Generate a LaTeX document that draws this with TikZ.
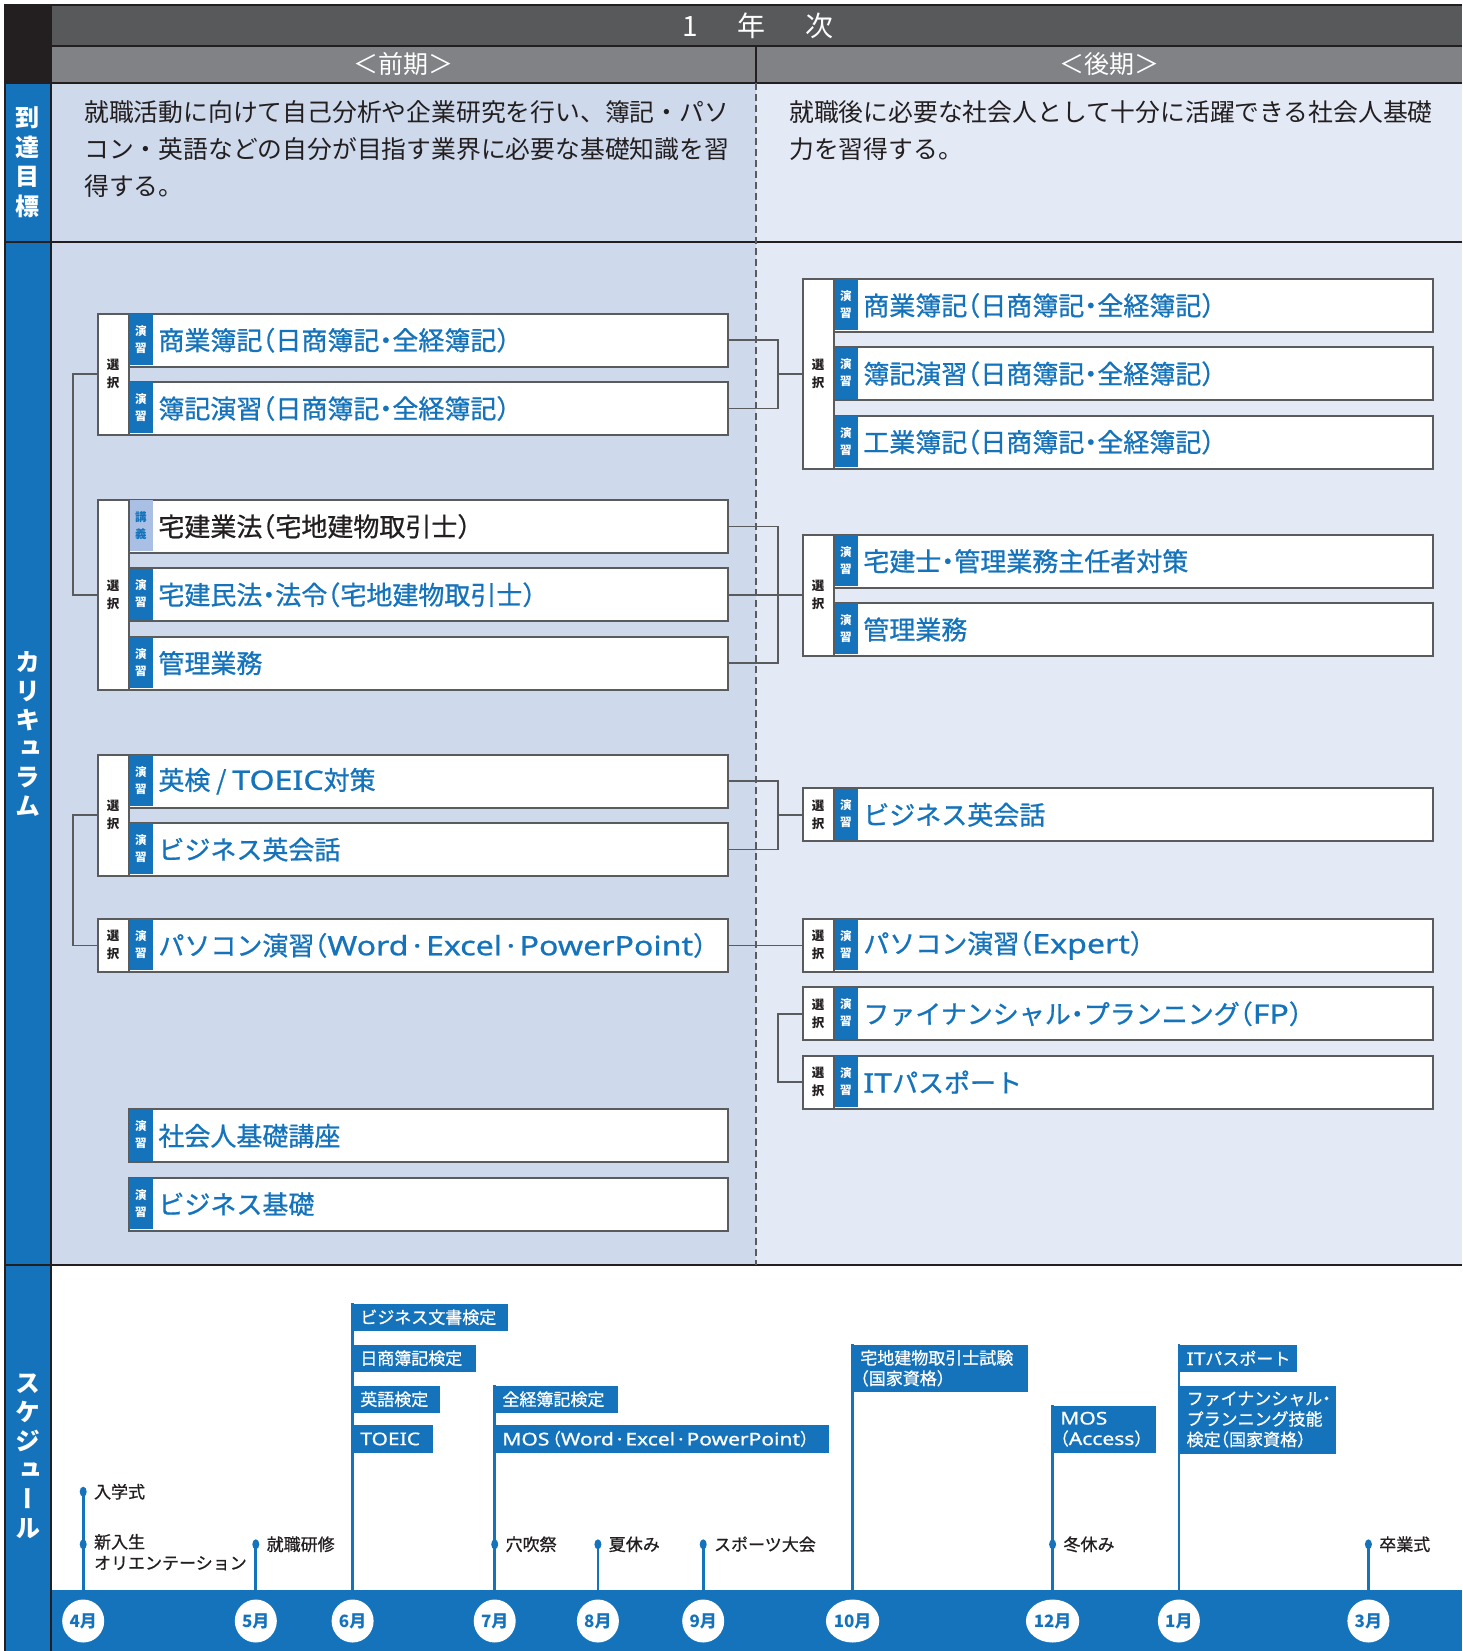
\documentclass[tikz,border=0pt]{standalone}
\usepackage{fontspec}
\setmainfont{Noto Sans CJK JP}
\newfontfamily\pjp{Noto Sans CJK JP}[RawFeature=+halt, FakeBold=0.8]
\newfontfamily\vjp{Noto Sans CJK JP}[RawFeature=+vert]
\newfontfamily\latin{Noto Sans}[FakeStretch=1.2, Scale=1.03, FakeBold=0.8]
\newcommand\lat[1]{{\latin #1}}
\usetikzlibrary{positioning,shapes.geometric}

\definecolor{kblue}{HTML}{1473BB}
\definecolor{ktag}{HTML}{A9BFE3}
\definecolor{khead}{HTML}{58595B}
\definecolor{ksub}{HTML}{808285}
\definecolor{kink}{HTML}{231F20}
\definecolor{kfront}{HTML}{CED9EC}
\definecolor{kback}{HTML}{E3E9F5}
\definecolor{kline}{HTML}{5A5B5D}

\tikzset{
  course/.style={draw=kline, line width=2pt, fill=white, anchor=north west,
    minimum width=599pt, minimum height=53pt, inner sep=0pt},
  coursetext/.style={anchor=west, inner sep=0pt, text=kblue,
    font=\pjp\fontsize{26}{30}\selectfont},
  tagbox/.style={anchor=north west, fill=kblue, text=white, minimum width=24pt,
    minimum height=51pt, inner sep=0pt, align=center,
    font=\bfseries\fontsize{11.5}{17}\selectfont},
  selbox/.style={draw=kline, line width=2pt, fill=white, anchor=north west,
    minimum width=31pt, inner sep=0pt, align=center, text=kink,
    font=\bfseries\fontsize{12.5}{18}\selectfont},
  conn/.style={draw=kline, line width=1.8pt},
  monthmark/.style={ellipse, fill=white, minimum width=42pt, minimum height=43pt,
    inner sep=0pt, text=kblue, font=\bfseries\fontsize{17}{17}\selectfont},
  tline/.style={draw=kblue, line width=2.8pt},
  evdot/.style={ellipse, fill=kblue, minimum width=7pt, minimum height=10pt, inner sep=0pt},
  evtext/.style={anchor=west, inner sep=0pt, text=kink, align=left,
    font=\pjp\fontsize{17}{21}\selectfont},
  exam/.style={anchor=north west, fill=kblue, text=white, inner xsep=9pt,
    inner ysep=0pt, minimum height=27.4pt, align=left,
    font=\pjp\fontsize{17}{20.5}\selectfont},
  sidelabel/.style={text=white, align=center, inner sep=0pt},
  frameline/.style={draw=kink, line width=1.5pt},
  aim/.style={anchor=north west, inner sep=0pt, align=left, text=kink,
    font=\fontsize{24.8}{37.4}\selectfont},
}

\begin{document}
\begin{tikzpicture}[x=1pt,y=-1pt]
\useasboundingbox (0,0) rectangle (1462,1651);

% backgrounds and frame
\fill[kfront] (51,83) rectangle (756,1265);
\fill[kback] (756,83) rectangle (1462,1265);
\fill[khead] (51,5) rectangle (1462,46);
\fill[ksub] (51,46) rectangle (1462,83);
\fill[kink] (5,5) rectangle (51,83);
\fill[kblue] (5,83) rectangle (51,1651);
\fill[kblue] (51,1590) rectangle (1462,1651);
\draw[frameline] (5,1651) -- (5,5) -- (1462,5);
\draw[frameline] (51,5) -- (51,1651);
\foreach \y in {46,83,242,1265}
  \draw[frameline] (5,\y) -- (1462,\y);
\draw[frameline] (756,46) -- (756,83);
\draw[kline, line width=1.3pt, dash pattern=on 7pt off 4pt] (756,83) -- (756,1265);

% headings
\node[text=white, font=\fontsize{28}{28}\selectfont] (year) at (758,26) {1\hspace{40pt}年\hspace{40pt}次};
\node[text=white, font=\fontsize{25}{25}\selectfont] (zenki) at (403.5,64) {＜前期＞};
\node[text=white, font=\fontsize{25}{25}\selectfont] (kouki) at (1109,64) {＜後期＞};
\node[sidelabel, font=\vjp\bfseries\fontsize{24}{29.5}\selectfont] (goal) at (28,162) {到\\達\\目\\標};
\node[sidelabel, font=\vjp\bfseries\fontsize{25}{28.8}\selectfont] (curr) at (28,734) {カ\\リ\\キ\\ュ\\ラ\\ム};
\node[sidelabel, font=\vjp\bfseries\fontsize{25}{29}\selectfont] (sched) at (28,1456) {ス\\ケ\\ジ\\ュ\\ー\\ル};

\node[aim] (aim1) at (84,100)
  {就職活動に向けて自己分析や企業研究を行い、簿記・パソ\\コン・英語などの自分が目指す業界に必要な基礎知識を習\\得する。};
\node[aim] (aim2) at (789,100)
  {就職後に必要な社会人として十分に活躍できる社会人基礎\\力を習得する。};

% first half
\foreach \n/\y/\txt in {z1/312.7/{商業簿記（日商簿記・全経簿記）},
    z2/381/{簿記演習（日商簿記・全経簿記）},
    z4/567.3/{宅建民法・法令（宅地建物取引士）},
    z5/635.6/{管理業務},
    z6/753.7/{英検 / \lat{TOEIC}対策},
    z7/822/{ビジネス英会話},
    z8/917.9/{パソコン演習（\lat{Word\,·\,Excel\,·\,PowerPoint}）},
    z9/1108.4/{社会人基礎講座},
    z10/1176.7/{ビジネス基礎}} {
  \node[course] (\n) at (127.7,\y) {};
  \node[tagbox] (\n-t) at ([shift={(1pt,-1pt)}]\n.north west) {演\\習};
  \node[coursetext] (\n-x) at ([xshift=30.5pt]\n.west) {\txt};
}
\node[course] (z3) at (127.7,499) {};
\node[tagbox, fill=ktag, text=kblue] (z3-t) at ([shift={(1pt,-1pt)}]z3.north west) {講\\義};
\node[coursetext, text=kink] (z3-x) at ([xshift=30.5pt]z3.west) {宅建業法（宅地建物取引士）};

\node[selbox, minimum height=121.3pt] (zs1) at (96.7,312.7) {選\\択};
\node[selbox, minimum height=189.6pt] (zs2) at (96.7,499) {選\\択};
\node[selbox, minimum height=121.3pt] (zs3) at (96.7,753.7) {選\\択};
\node[selbox, minimum height=53pt] (zs4) at (96.7,917.9) {選\\択};

% second half
\foreach \n/\y/\txt in {k1/278/{商業簿記（日商簿記・全経簿記）},
    k2/346.3/{簿記演習（日商簿記・全経簿記）},
    k3/414.6/{工業簿記（日商簿記・全経簿記）},
    k4/533.7/{宅建士・管理業務主任者対策},
    k5/602/{管理業務},
    k6/787.3/{ビジネス英会話},
    k7/917.9/{パソコン演習（\lat{Expert}）},
    k8/986.3/{ファイナンシャル・プランニング（\lat{FP}）},
    k9/1054.6/{\lat{IT}パスポート}} {
  \node[course] (\n) at (832.6,\y) {};
  \node[tagbox] (\n-t) at ([shift={(1pt,-1pt)}]\n.north west) {演\\習};
  \node[coursetext] (\n-x) at ([xshift=30.5pt]\n.west) {\txt};
}
\node[selbox, minimum height=189.6pt] (ks1) at (801.7,278) {選\\択};
\node[selbox, minimum height=121.3pt] (ks2) at (801.7,533.7) {選\\択};
\foreach \n/\y in {ks3/787.3,ks4/917.9,ks5/986.3,ks6/1054.6}
  \node[selbox, minimum height=53pt] (\n) at (801.7,\y) {選\\択};

% connectors
\draw[conn] (zs1.west) -- ++(-24pt,0) |- (zs2.west);
\draw[conn] (zs3.west) -- ++(-24pt,0) |- (zs4.west);
\coordinate (j1) at ([xshift=-24pt]ks1.west);
\coordinate (j2) at ([xshift=-24pt]ks2.west);
\coordinate (j3) at ([xshift=-24pt]ks3.west);
\draw[conn] (z1.east) -| (j1) |- (z2.east) (j1) -- (ks1.west);
\draw[conn] (z3.east) -| (j2) |- (z5.east) (z4.east) -- (z4.east -| j2) (j2) -- (ks2.west);
\draw[conn] (z6.east) -| (j3) |- (z7.east) (j3) -- (ks3.west);
\draw[conn] (z8.east) -- (ks4.west);
\draw[conn] (ks5.west) -- ++(-24pt,0) |- (ks6.west);

% schedule
\foreach \m/\x in {4/83.2,5/255.8,6/352.6,7/494.7,8/597.9,9/703.2,10/852.6,12/1052.6,1/1178.9,3/1368.4}
  \node[monthmark] (m\m) at (\x,1621) {\m{}月};

\node[exam, text width=139.1pt] (e1) at (351.1,1303.3) {ビジネス文書検定};
\node[exam, text width=107pt] (e2) at (351.1,1344.3) {日商簿記検定};
\node[exam, text width=70.7pt] (e3) at (351.1,1385.3) {英語検定};
\node[exam, text width=63.6pt] (e4) at (351.1,1425) {\lat{TOEIC}};
\node[exam, text width=107pt] (e5) at (493.2,1385.3) {全経簿記検定};
\node[exam, text width=317.2pt] (e6) at (493.2,1425) {\lat{MOS}\kern3pt（\lat{Word\,·\,Excel\,·\,PowerPoint}）};
\node[exam, text width=158.3pt, minimum height=47.4pt] (e7) at (851.1,1344.3) {宅地建物取引士試験\\（国家資格）};
\node[exam, text width=87pt, minimum height=47.4pt] (e8) at (1051.1,1405.3) {\lat{MOS}\\（\lat{Access}）};
\node[exam, text width=101.7pt] (e9) at (1177.4,1344.3) {\lat{IT}パスポート};
\node[exam, text width=140.8pt, minimum height=68pt] (e10) at (1177.4,1385.3) {ファイナンシャル・\\プランニング技能\\検定（国家資格）};

\draw[tline] (m4.north) -- (m4 |- 0,1491.7);
\draw[tline] (m5.north) -- (m5 |- 0,1544.3);
\draw[tline] (m6.north) -- (m6 |- e1.north);
\draw[tline] (m7.north) -- (m7 |- e5.north);
\draw[tline] (m8.north) -- (m8 |- 0,1544.3);
\draw[tline] (m9.north) -- (m9 |- 0,1544.3);
\draw[tline] (m10.north) -- (m10 |- e7.north);
\draw[tline] (m12.north) -- (m12 |- e8.north);
\draw[tline] (m1.north) -- (m1 |- e9.north);
\draw[tline] (m3.north) -- (m3 |- 0,1544.3);

\foreach \n/\x/\y in {d1/83.2/1491.7,d2/83.2/1544.3,d3/255.8/1544.3,d4/494.7/1544.3,
    d5/597.9/1544.3,d6/703.2/1544.3,d7/1052.6/1544.3,d8/1368.4/1544.3}
  \node[evdot] (\n) at (\x,\y) {};
\node[evtext] (d1-x) at ([xshift=7pt]d1.east) {入学式};
\node[evtext, anchor=north west] (d2-x) at ([xshift=7pt,yshift=10.5pt]d2.east) {新入生\\オリエンテーション};
\node[evtext] (d3-x) at ([xshift=7pt]d3.east) {就職研修};
\node[evtext] (d4-x) at ([xshift=7pt]d4.east) {穴吹祭};
\node[evtext] (d5-x) at ([xshift=7pt]d5.east) {夏休み};
\node[evtext] (d6-x) at ([xshift=7pt]d6.east) {スポーツ大会};
\node[evtext] (d7-x) at ([xshift=7pt]d7.east) {冬休み};
\node[evtext] (d8-x) at ([xshift=7pt]d8.east) {卒業式};
\end{tikzpicture}
\end{document}
